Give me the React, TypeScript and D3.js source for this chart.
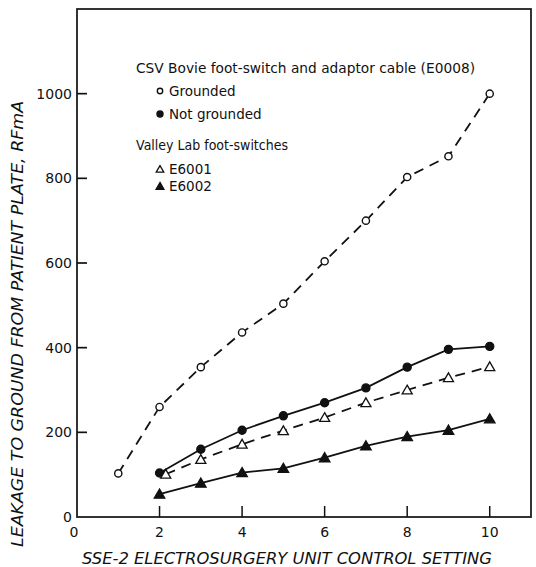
import React from "react";
import * as d3 from "d3";

// control setting (x) and leakage in RFmA (y) for each cable/switch
const groundedX = [1, 2, 3, 4, 5, 6, 7, 8, 9, 10];
const groundedY = [103, 260, 354, 436, 504, 604, 700, 803, 852, 1000];
const notGroundedX = [2, 3, 4, 5, 6, 7, 8, 9, 10];
const notGroundedY = [104, 160, 205, 239, 270, 305, 354, 396, 403];
const e6001X = [2.15, 3, 4, 5, 6, 7, 8, 9, 10];
const e6001Y = [101, 136, 172, 204, 235, 270, 300, 329, 355];
const e6002X = [2, 3, 4, 5, 6, 7, 8, 9, 10];
const e6002Y = [54, 80, 105, 115, 140, 168, 190, 205, 232];

const xTicks = [0, 2, 4, 6, 8, 10];
const yTicks = [0, 200, 400, 600, 800, 1000];

const legendTitle1 = "CSV  Bovie foot-switch and adaptor cable (E0008)";
const legendTitle2 = "Valley Lab foot-switches";

type Series = {
  name: string;
  xs: number[];
  ys: number[];
  marker: "openCircle" | "circle" | "openTriangle" | "triangle";
  dashed: boolean;
};

const series: Series[] = [
  { name: "Grounded", xs: groundedX, ys: groundedY, marker: "openCircle", dashed: true },
  { name: "Not grounded", xs: notGroundedX, ys: notGroundedY, marker: "circle", dashed: false },
  { name: "E6001", xs: e6001X, ys: e6001Y, marker: "openTriangle", dashed: true },
  { name: "E6002", xs: e6002X, ys: e6002Y, marker: "triangle", dashed: false },
];

const W = 536;
const H = 567;
const INK = "#111";
const FONT = "'DejaVu Sans', sans-serif";

const x = d3.scaleLinear().domain([0, 11]).range([77, 531]);
const y = d3.scaleLinear().domain([0, 1200]).range([517, 9]);

const Marker = ({ kind, cx, cy, scale = 1 }: { kind: Series["marker"]; cx: number; cy: number; scale?: number }) => {
  if (kind === "openCircle" || kind === "circle") {
    const open = kind === "openCircle";
    return (
      <circle
        cx={cx}
        cy={cy}
        r={(open ? 3.6 : 4) * scale}
        fill={open ? "#fff" : INK}
        stroke={INK}
        strokeWidth={1.4}
      />
    );
  }
  const open = kind === "openTriangle";
  const path = d3.symbol().type(d3.symbolTriangle).size((open ? 44 : 48) * scale * scale)();
  return (
    <path
      d={path || ""}
      transform={`translate(${cx},${cy + 1})`}
      fill={open ? "#fff" : INK}
      stroke={INK}
      strokeWidth={1.3}
    />
  );
};

export default function App() {
  const line = d3
    .line<[number, number]>()
    .x((d) => x(d[0]))
    .y((d) => y(d[1]));

  const [x0, x1] = x.range();
  const [y0, y1] = y.range();

  const legendRows = [
    { kind: "title", text: legendTitle1, yy: 73, len: 339 },
    { kind: "item", s: series[0], yy: 92 },
    { kind: "item", s: series[1], yy: 115 },
    { kind: "title", text: legendTitle2, yy: 150, len: 152 },
    { kind: "item", s: series[2], yy: 170 },
    { kind: "item", s: series[3], yy: 187 },
  ];

  return (
    <svg
      width={W}
      height={H}
      style={{ position: "absolute", left: 0, top: 0, background: "#fff" }}
      fontFamily={FONT}
    >
      <rect x={0} y={0} width={W} height={H} fill="#fff" />

      {/* frame */}
      <rect x={x0} y={y1} width={x1 - x0} height={y0 - y1} fill="none" stroke={INK} strokeWidth={1.7} />

      {/* y ticks, pointing inward */}
      {yTicks.map((t) => (
        <g key={"y" + t}>
          {t > 0 && <line x1={x0} x2={x0 + 10} y1={y(t)} y2={y(t)} stroke={INK} strokeWidth={1.7} />}
          <text x={x0 - 5} y={y(t)} dy="0.36em" textAnchor="end" fontSize={14} fill={INK}>
            {t}
          </text>
        </g>
      ))}

      {/* x ticks */}
      {xTicks.map((t) => (
        <g key={"x" + t}>
          {t > 0 && <line x1={x(t)} x2={x(t)} y1={y0} y2={y0 - 11} stroke={INK} strokeWidth={1.5} />}
          <text x={x(t) - (t === 0 ? 3 : 0)} y={537} textAnchor="middle" fontSize={14} fill={INK}>
            {t}
          </text>
        </g>
      ))}

      {/* axis titles */}
      <text
        x={287}
        y={564}
        textAnchor="middle"
        fontSize={16}
        fontStyle="italic"
        textLength={410}
        lengthAdjust="spacingAndGlyphs"
        fill={INK}
      >
        SSE-2 ELECTROSURGERY UNIT CONTROL SETTING
      </text>
      <text
        transform={`translate(23,${324}) rotate(-90)`}
        textAnchor="middle"
        fontSize={16}
        fontStyle="italic"
        textLength={446}
        lengthAdjust="spacingAndGlyphs"
        fill={INK}
      >
        LEAKAGE TO GROUND FROM PATIENT PLATE, RFmA
      </text>

      {/* lines */}
      {series.map((s) => (
        <path
          key={"l" + s.name}
          d={line(s.xs.map((v, i) => [v, s.ys[i]] as [number, number])) || ""}
          fill="none"
          stroke={INK}
          strokeWidth={1.8}
          strokeDasharray={s.dashed ? "10,7" : undefined}
        />
      ))}

      {/* markers */}
      {series.map((s) =>
        s.xs.map((v, i) => <Marker key={s.name + i} kind={s.marker} cx={x(v)} cy={y(s.ys[i])} />)
      )}

      {/* legend */}
      {legendRows.map((r, i) =>
        r.kind === "title" ? (
          <text key={"lg" + i} x={136} y={r.yy} fontSize={13.5} fill={INK} textLength={r.len} lengthAdjust="spacingAndGlyphs">
            {r.text}
          </text>
        ) : (
          <g key={"lg" + i}>
            <Marker kind={r.s!.marker} cx={160} cy={r.yy - 1} scale={0.75} />
            <text x={169} y={r.yy + 4} fontSize={13.5} fill={INK}>
              {r.s!.name}
            </text>
          </g>
        )
      )}
    </svg>
  );
}
